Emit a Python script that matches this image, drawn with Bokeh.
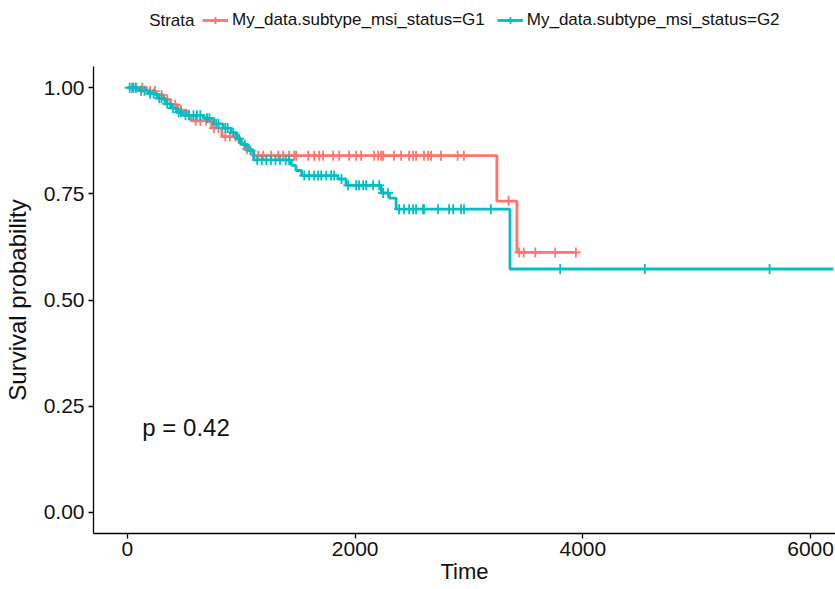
import numpy as np
from bokeh.plotting import figure
from bokeh.layouts import column
from bokeh.models import (Range1d, FixedTicker, NumeralTickFormatter, Legend, LegendItem, Label)
from bokeh.embed import file_html
from bokeh.resources import INLINE

# ---------------- data ----------------
strata_title = "Strata"
group_labels = ["My_data.subtype_msi_status=G1", "My_data.subtype_msi_status=G2"]
group_colors = ["#F8766D", "#00BFC4"]

# G1: event times and survival after each event
g1_event_t = [170, 250, 320, 380, 440, 520, 560, 740, 830, 980, 1030, 1100, 3245, 3421]
g1_event_s = [0.992, 0.983, 0.972, 0.960, 0.947, 0.935, 0.922, 0.905, 0.885, 0.870, 0.855, 0.840, 0.733, 0.612]
g1_last_time = 3950
g1_censor_t = [40, 80, 130, 200, 240, 300, 350, 420, 470, 540, 600, 640, 690, 760, 800, 860, 900,
               950, 1050, 1150, 1193, 1263, 1325, 1368, 1420, 1465, 1482, 1588, 1640, 1684, 1719,
               1807, 1860, 1947, 2009, 2053, 2167, 2202, 2228, 2246, 2342, 2404, 2474, 2509, 2535,
               2605, 2640, 2667, 2754, 2900, 2955, 3348, 3442, 3480, 3582, 3757, 3939]

# G2
g2_event_t = [100, 180, 260, 330, 380, 430, 490, 670, 760, 840, 910, 960, 1000, 1060, 1110,
              1440, 1480, 1530, 1850, 1920, 2230, 2300, 2360, 3360]
g2_event_s = [0.993, 0.986, 0.975, 0.962, 0.952, 0.942, 0.935, 0.928, 0.915, 0.905, 0.894, 0.880,
              0.866, 0.852, 0.830, 0.817, 0.805, 0.793, 0.785, 0.770, 0.752, 0.740, 0.714, 0.573]
g2_last_time = 6200
g2_censor_t = [20, 50, 70, 120, 150, 200, 230, 280, 300, 350, 400, 450, 470, 510, 540, 580, 610,
               640, 700, 720, 780, 800, 860, 880, 930, 980, 1030, 1080, 1140, 1180, 1220, 1260,
               1300, 1340, 1390, 1420, 1553, 1596, 1640, 1675, 1702, 1746, 1789, 1816, 1880, 1939,
               2009, 2035, 2070, 2096, 2158, 2211, 2246, 2289, 2386, 2430, 2474, 2509, 2535, 2596,
               2605, 2728, 2825, 2860, 2930, 2956, 3193, 3801, 4544, 5640]

x_ticks = [0, 2000, 4000, 6000]
y_ticks = [0.0, 0.25, 0.5, 0.75, 1.0]
x_title = "Time"
y_title = "Survival probability"
pval_text = "p = 0.42"
pval_pos = (131, 0.2)

FONT = "Liberation Sans"
TXT = "#111111"
W, H = 835, 589
TOP = 66

# ---------------- legend strip (top) ----------------
lg = figure(width=W, height=TOP, output_backend="svg", toolbar_location=None,
            x_range=Range1d(-298, 6219), y_range=Range1d(0, 2),
            min_border_left=92, min_border_right=0, min_border_top=0, min_border_bottom=0)
lg.axis.visible = False
lg.grid.visible = False
lg.outline_line_color = None

groups = [
    (g1_event_t, g1_event_s, g1_last_time, g1_censor_t),
    (g2_event_t, g2_event_s, g2_last_time, g2_censor_t),
]

items = []
for (ev_t, ev_s, last_t, cens), lab, col in zip(groups, group_labels, group_colors):
    # legend-only renderers (hidden in the strip; the legend still draws their glyphs)
    ln = lg.line(x=[0, ev_t[0]], y=[1.0, 1.0], line_color=col, line_width=2.8, visible=False)
    sc = lg.scatter(x=[cens[0]], y=[1.0], marker="cross", size=12, line_color=col,
                    line_width=1.8, visible=False)
    items.append(LegendItem(label=lab, renderers=[ln, sc]))

legend = Legend(items=items, orientation="horizontal", location=(109, 36),
                background_fill_alpha=0, border_line_alpha=0, padding=0, margin=0,
                spacing=12, glyph_width=26, glyph_height=18, label_standoff=4,
                inactive_fill_alpha=0, click_policy="none",
                label_text_font=FONT, label_text_font_size="17px", label_text_color=TXT)
lg.add_layout(legend, "center")
lg.add_layout(Label(x=101, y=46, x_units="screen", y_units="screen", text=strata_title,
                    text_align="right", text_baseline="middle", text_font=FONT,
                    text_font_size="17px", text_color=TXT))

# ---------------- main plot ----------------
p = figure(width=W, height=H - TOP, output_backend="svg", toolbar_location=None,
           x_range=Range1d(-298, 6219), y_range=Range1d(-0.05, 1.05),
           min_border_left=92, min_border_right=0, min_border_top=0, min_border_bottom=56)
p.grid.visible = False
p.outline_line_color = None
p.background_fill_color = "white"


def surv_at(times, ev_t, ev_s):
    ev_t = np.asarray(ev_t, float)
    ev_s = np.asarray(ev_s, float)
    idx = np.searchsorted(ev_t, np.asarray(times, float), side="right") - 1
    return np.where(idx >= 0, ev_s[np.clip(idx, 0, None)], 1.0)


for (ev_t, ev_s, last_t, cens), col in zip(groups, group_colors):
    xs = [0] + list(ev_t) + [last_t]
    ys = [1.0] + list(ev_s) + [ev_s[-1]]
    p.step(xs, ys, mode="after", line_color=col, line_width=2.8)
    cy = surv_at(cens, ev_t, ev_s)
    p.scatter(cens, cy, marker="cross", size=10, line_color=col, line_width=1.8)

p.add_layout(Label(x=pval_pos[0], y=pval_pos[1], text=pval_text, text_align="left",
                   text_baseline="middle", text_font=FONT, text_font_size="24px",
                   text_color=TXT))

for ax in (p.xaxis[0], p.yaxis[0]):
    ax.axis_line_color = "black"
    ax.axis_line_width = 1.3
    ax.major_tick_line_color = "black"
    ax.major_tick_line_width = 1.3
    ax.major_tick_out = 5
    ax.major_tick_in = 0
    ax.minor_tick_line_color = None
    ax.major_label_text_font = FONT
    ax.major_label_text_font_size = "21px"
    ax.major_label_text_color = TXT
    ax.axis_label_text_font = FONT
    ax.axis_label_text_font_style = "normal"
    ax.axis_label_text_color = TXT

p.xaxis.ticker = FixedTicker(ticks=x_ticks)
p.yaxis.ticker = FixedTicker(ticks=y_ticks)
p.yaxis.formatter = NumeralTickFormatter(format="0.00")
p.xaxis.major_label_standoff = 3
p.yaxis.major_label_standoff = 4
p.xaxis.axis_label = x_title
p.xaxis.axis_label_text_font_size = "22px"
p.xaxis.axis_label_standoff = 0
p.yaxis.axis_label = y_title
p.yaxis.axis_label_text_font_size = "24px"
p.yaxis.axis_label_standoff = 10

layout = column(lg, p, spacing=0)
open("out.html", "w").write(file_html(layout, INLINE))
